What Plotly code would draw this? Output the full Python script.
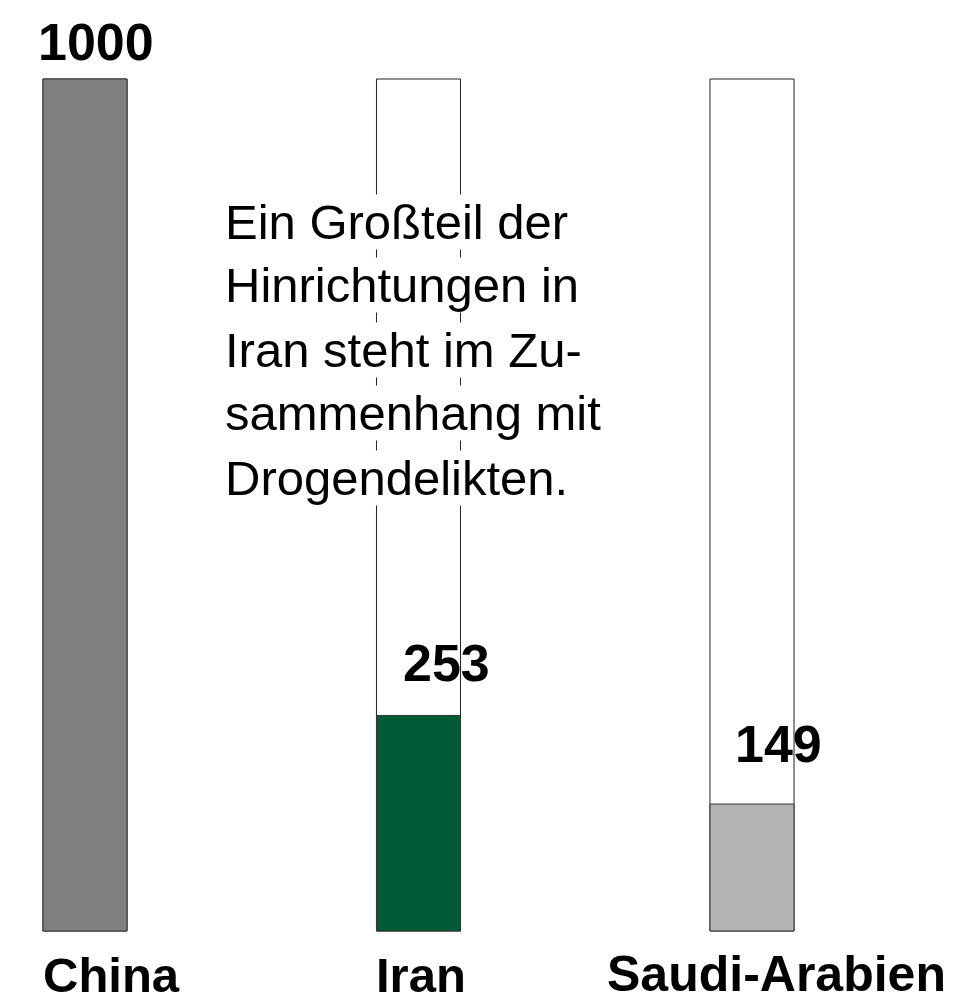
import plotly.graph_objects as go

categories = ["China", "Iran", "Saudi-Arabien"]
values = [1000, 253, 149]
scale_max = 1000
bar_colors = ["#808080", "#005c37", "#b3b3b3"]
value_labels = ["1000", "253", "149"]
note_lines = ["Ein Großteil der", "Hinrichtungen in", "Iran steht im Zu-",
              "sammenhang mit", "Drogendelikten."]

W, H = 959, 1002
px_per_cat = 333.5
x0_px = 85
x_range = [-x0_px / px_per_cat, (W - x0_px) / px_per_cat]
py_per_unit = 852 / 1000
y_range = [-(H - 931) / py_per_unit, 1000 + 79 / py_per_unit]

fig = go.Figure()
fig.add_trace(go.Bar(
    x=categories, y=[scale_max] * len(categories), width=0.252,
    marker=dict(color="white", line=dict(color="#222", width=1)),
    hoverinfo="skip", showlegend=False,
))
fig.add_trace(go.Bar(
    x=categories, y=values, width=0.252,
    marker=dict(color=bar_colors, line=dict(color="#333", width=1)),
    showlegend=False,
))

val_xshift = [11, 28, 26]
val_yshift = [6, 21, 29]
for c, v, lab, xs, ys in zip(categories, values, value_labels, val_xshift, val_yshift):
    fig.add_annotation(x=c, y=v, text=f"<b>{lab}</b>", showarrow=False,
                       xanchor="center", yanchor="bottom", xshift=xs, yshift=ys,
                       font=dict(family="Liberation Sans, Arial", size=52, color="black"))

cat_xshift = [26, 2, 24]
cat_sizes = [49, 49, 50]
cat_yshift = [-15, -15, -13]
for c, xs, sz, ys in zip(categories, cat_xshift, cat_sizes, cat_yshift):
    fig.add_annotation(x=c, y=0, text=f"<b>{c}</b>", showarrow=False,
                       xanchor="center", yanchor="top", xshift=xs, yshift=ys,
                       font=dict(family="Liberation Sans, Arial", size=sz, color="black"))

for i, line in enumerate(note_lines):
    cy = 221.5 + 64 * i
    fig.add_annotation(xref="paper", yref="paper", x=224 / W, y=1 - cy / H,
                       text=line, showarrow=False, xanchor="left", yanchor="middle",
                       bgcolor="white", borderpad=0,
                       font=dict(family="Liberation Sans, Arial", size=49, color="black"))

fig.update_layout(
    width=W, height=H, margin=dict(l=0, r=0, t=0, b=0),
    paper_bgcolor="white", plot_bgcolor="white",
    barmode="overlay",
    xaxis=dict(visible=False, range=x_range, type="category"),
    yaxis=dict(visible=False, range=y_range),
)
fig.write_html("out.html")
